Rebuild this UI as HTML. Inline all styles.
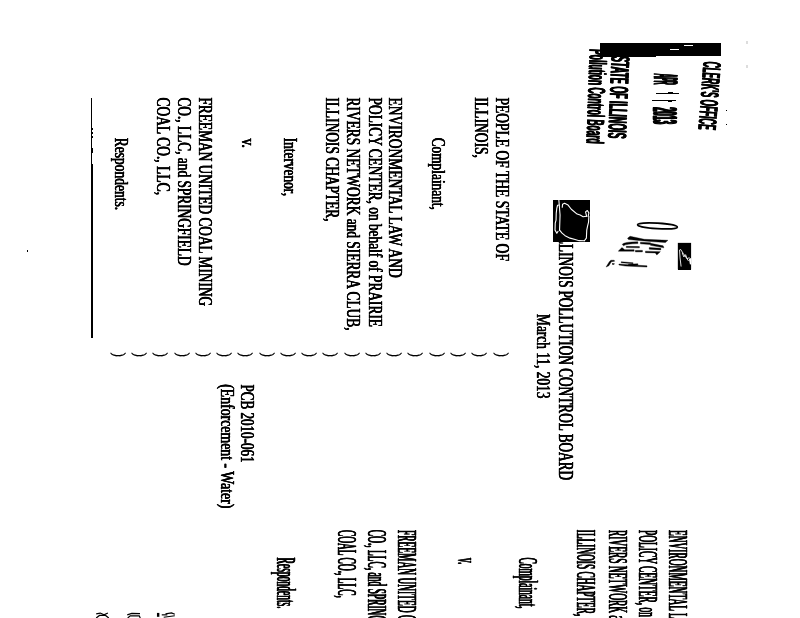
<!DOCTYPE html>
<html>
<head>
<meta charset="utf-8">
<title>Scanned filing</title>
<style>
html,body{margin:0;padding:0;background:#fff;}
#pg{position:relative;width:800px;height:618px;overflow:hidden;background:#fff;filter:grayscale(1);}
#pg span{position:absolute;left:0;top:0;transform-origin:0 0;white-space:pre;line-height:1;font-size:20px;color:#000;-webkit-text-stroke:0.4px #000;}
.s{font-family:"Liberation Serif",serif;text-shadow:0.4px 0 0 #000,-0.4px 0 0 #000;}
.n{font-family:"Liberation Sans",sans-serif;}
.b{font-weight:700;}
.st{text-shadow:0.6px 0 0 #000,-0.6px 0 0 #000;-webkit-text-stroke:0.3px #000 !important;}
.st2{text-shadow:1.6px 0 0 #000,-1.6px 0 0 #000;}
.rp{text-shadow:0.6px 0 0 #000,-0.6px 0 0 #000;}
.par{text-shadow:none !important;-webkit-text-stroke:0.3px #000 !important;}
.box{position:absolute;background:#000;}
svg{position:absolute;overflow:visible;}
</style>
</head>
<body>
<div id="pg">
<span class="s" style="transform:translate(512.43px,97.49px) rotate(90deg) scale(0.6771,0.9538)">PEOPLE OF THE STATE OF</span>
<span class="s" style="transform:translate(491.53px,97.36px) rotate(90deg) scale(0.6770,0.9538)">ILLINOIS,</span>
<span class="s" style="transform:translate(448.13px,137.67px) rotate(90deg) scale(0.6667,0.9538)">Complainant,</span>
<span class="s" style="transform:translate(405.33px,97.59px) rotate(90deg) scale(0.6752,0.9538)">ENVIRONMENTAL LAW AND</span>
<span class="s" style="transform:translate(385.23px,97.60px) rotate(90deg) scale(0.6675,0.9538)">POLICY CENTER, on behalf of PRAIRIE</span>
<span class="s" style="transform:translate(363.23px,97.60px) rotate(90deg) scale(0.6686,0.9538)">RIVERS NETWORK and SIERRA CLUB,</span>
<span class="s" style="transform:translate(342.03px,97.46px) rotate(90deg) scale(0.6690,0.9538)">ILLINOIS CHAPTER,</span>
<span class="s" style="transform:translate(300.03px,137.67px) rotate(90deg) scale(0.6674,0.9538)">Intervenor,</span>
<span class="s" style="transform:translate(258.03px,138.50px) rotate(90deg) scale(0.6770,0.9538)">v.</span>
<span class="s" style="transform:translate(215.33px,97.60px) rotate(90deg) scale(0.6660,0.9538)">FREEMAN UNITED COAL MINING</span>
<span class="s" style="transform:translate(194.03px,97.47px) rotate(90deg) scale(0.6668,0.9538)">CO., LLC, and SPRINGFIELD</span>
<span class="s" style="transform:translate(173.23px,97.46px) rotate(90deg) scale(0.6765,0.9538)">COAL CO., LLC,</span>
<span class="s" style="transform:translate(130.73px,137.80px) rotate(90deg) scale(0.6749,0.9538)">Respondents.</span>
<span class="s" style="transform:translate(257.43px,384.41px) rotate(90deg) scale(0.6548,0.9538)">PCB 2010-061</span>
<span class="s" style="transform:translate(237.03px,384.25px) rotate(90deg) scale(0.6889,0.9538)">(Enforcement - Water)</span>
<span class="s" style="transform:translate(576.61px,231.47px) rotate(90deg) scale(0.6650,1.0308)">ILLINOIS</span>
<span class="s" style="transform:translate(576.61px,290.40px) rotate(90deg) scale(0.6635,1.0308)">POLLUTION CONTROL BOARD</span>
<span class="s" style="transform:translate(553.53px,314.10px) rotate(90deg) scale(0.6664,0.9538)">March 11, 2013</span>
<span class="s par" style="transform:translate(511.41px,352.51px) rotate(90deg) scale(0.6500,0.8769)">)</span>
<span class="s par" style="transform:translate(490.15px,352.51px) rotate(90deg) scale(0.6500,0.8769)">)</span>
<span class="s par" style="transform:translate(468.89px,352.51px) rotate(90deg) scale(0.6500,0.8769)">)</span>
<span class="s par" style="transform:translate(447.63px,352.51px) rotate(90deg) scale(0.6500,0.8769)">)</span>
<span class="s par" style="transform:translate(426.37px,352.51px) rotate(90deg) scale(0.6500,0.8769)">)</span>
<span class="s par" style="transform:translate(405.12px,352.51px) rotate(90deg) scale(0.6500,0.8769)">)</span>
<span class="s par" style="transform:translate(383.86px,352.51px) rotate(90deg) scale(0.6500,0.8769)">)</span>
<span class="s par" style="transform:translate(362.60px,352.51px) rotate(90deg) scale(0.6500,0.8769)">)</span>
<span class="s par" style="transform:translate(341.34px,352.51px) rotate(90deg) scale(0.6500,0.8769)">)</span>
<span class="s par" style="transform:translate(320.08px,352.51px) rotate(90deg) scale(0.6500,0.8769)">)</span>
<span class="s par" style="transform:translate(298.82px,352.51px) rotate(90deg) scale(0.6500,0.8769)">)</span>
<span class="s par" style="transform:translate(277.57px,352.51px) rotate(90deg) scale(0.6500,0.8769)">)</span>
<span class="s par" style="transform:translate(256.31px,352.51px) rotate(90deg) scale(0.6500,0.8769)">)</span>
<span class="s par" style="transform:translate(235.05px,352.51px) rotate(90deg) scale(0.6500,0.8769)">)</span>
<span class="s par" style="transform:translate(213.79px,352.51px) rotate(90deg) scale(0.6500,0.8769)">)</span>
<span class="s par" style="transform:translate(192.53px,352.51px) rotate(90deg) scale(0.6500,0.8769)">)</span>
<span class="s par" style="transform:translate(171.27px,352.51px) rotate(90deg) scale(0.6500,0.8769)">)</span>
<span class="s par" style="transform:translate(150.02px,352.51px) rotate(90deg) scale(0.6500,0.8769)">)</span>
<span class="s par" style="transform:translate(128.76px,352.51px) rotate(90deg) scale(0.6500,0.8769)">)</span>
<span class="s rp" style="transform:translate(600.68px,529.83px) rotate(90deg) scale(0.4656,1.3846)">ILLINOIS CHAPTER,</span>
<span class="s rp" style="transform:translate(632.28px,529.92px) rotate(90deg) scale(0.4725,1.3846)">RIVERS NETWORK and SIERRA CLUB,</span>
<span class="s rp" style="transform:translate(662.58px,529.92px) rotate(90deg) scale(0.4725,1.3846)">POLICY CENTER, on behalf of PRAIRIE</span>
<span class="s rp" style="transform:translate(692.78px,529.92px) rotate(90deg) scale(0.4725,1.3846)">ENVIRONMENTAL LAW AND</span>
<span class="s rp" style="transform:translate(542.18px,557.52px) rotate(90deg) scale(0.4718,1.3846)">Complainant,</span>
<span class="s rp" style="transform:translate(481.58px,557.90px) rotate(90deg) scale(0.4758,1.3846)">v.</span>
<span class="s rp" style="transform:translate(421.18px,529.92px) rotate(90deg) scale(0.4725,1.3846)">FREEMAN UNITED COAL MINING</span>
<span class="s rp" style="transform:translate(391.18px,529.82px) rotate(90deg) scale(0.4725,1.3846)">CO., LLC, and SPRINGFIELD</span>
<span class="s rp" style="transform:translate(361.48px,529.92px) rotate(90deg) scale(0.4712,1.3846)">COAL CO., LLC,</span>
<span class="s rp" style="transform:translate(300.78px,557.61px) rotate(90deg) scale(0.4762,1.3846)">Respondents.</span>
<span class="n b st" style="transform:translate(725.06px,62.67px) rotate(94.4deg) scale(0.4124,1.2681)">CLERK&#x27;S OFFICE</span>
<span class="n b st2" style="transform:translate(683.07px,74.05px) rotate(91deg) scale(0.2573,1.7101)">APR</span>
<span class="n b st2" style="transform:translate(682.27px,107.28px) rotate(90deg) scale(0.3750,1.7101)">2013</span>
<span class="n b st" style="transform:translate(633.67px,56.63px) rotate(92.4deg) scale(0.4442,1.3043)">STATE OF ILLINOIS</span>
<span class="n b st" style="transform:translate(610.54px,49.71px) rotate(92deg) scale(0.4192,1.2319)">Pollution Control Board</span><!-- rule line -->
<div class="box" style="left:91px;top:98px;width:1.2px;height:70px"></div>
<div class="box" style="left:91px;top:164px;width:2.1px;height:173.6px"></div>
<div class="box" style="left:92px;top:148px;width:1px;height:5px"></div>
<div class="box" style="left:92px;top:128px;width:1px;height:2px"></div>
<div class="box" style="left:92px;top:132px;width:1px;height:2px"></div>
<div class="box" style="left:92px;top:136px;width:1px;height:2px"></div>
<div class="box" style="left:27px;top:250px;width:1px;height:2px"></div>
<!-- top stamp bar -->
<div class="box" style="left:600px;top:43px;width:121px;height:13px"></div>
<div class="box" style="left:600px;top:43px;width:56px;height:13.6px"></div>
<!-- flag box -->
<div class="box" style="left:553px;top:200px;width:37px;height:42px"></div>
<!-- small box -->
<div class="box" style="left:678px;top:243px;width:13px;height:26.5px"></div>
<!-- APR 1 9 strokes -->
<div class="box" style="left:656px;top:92.7px;width:23px;height:1.2px"></div>
<div class="box" style="left:668px;top:91.8px;width:5px;height:1.4px"></div>
<div class="box" style="left:652px;top:100px;width:23.5px;height:1.2px"></div>
<div class="box" style="left:668px;top:99.6px;width:4px;height:2px"></div>
<!-- bar highlights -->
<div class="box" style="left:670px;top:48.6px;width:9px;height:1px;background:#fff"></div>
<div class="box" style="left:684px;top:44.6px;width:9px;height:1px;background:#fff"></div>
<!-- stray specks -->
<div class="box" style="left:726px;top:110px;width:1px;height:1px"></div>
<div class="box" style="left:726px;top:123.5px;width:1px;height:1px"></div>
<div class="box" style="left:746px;top:41px;width:2px;height:3px;background:#ddd"></div>
<div class="box" style="left:746px;top:65px;width:2px;height:3px;background:#ddd"></div>
<!-- flag outline inside black box -->
<svg style="left:545px;top:190px" width="80" height="62" viewBox="0 0 797 618" preserveAspectRatio="none" fill="none" stroke="#fff" stroke-width="11" stroke-linejoin="round" stroke-linecap="round">
<path d="M138,100 L142,150 L150,250 L145,400"/>
<path d="M142,150 L125,152 L118,180 L112,230 L110,300 L102,330 L100,400 L118,432 L130,412"/>
<path d="M172,172 L175,142 L195,133 L230,150 L262,192 L320,240 L350,250 L380,266 L415,262"/>
<path d="M415,262 L404,218 L422,204 L437,228 L430,262"/>
<path d="M437,262 L434,320 L424,360 L416,400 L412,480 L392,506"/>
<path d="M145,400 L170,430 L200,455 L250,480 L300,494 L340,505 L392,506"/>
</svg>
<!-- ellipse + scribbles + small box -->
<svg style="left:600px;top:210px" width="100" height="78" viewBox="0 0 792 618" preserveAspectRatio="none">
<ellipse cx="455" cy="126" rx="158" ry="22" transform="rotate(3.5 455 126)" fill="none" stroke="#000" stroke-width="13"/>
<g fill="#000" stroke="#000" stroke-width="3">
<path d="M218,224 L238,208 L350,232 L538,240 L518,258 L350,246 L226,234 Z"/>
<path d="M176,272 Q190,252 300,252 L300,266 Q205,268 186,284 Z"/>
<path d="M320,256 L400,260 L400,274 L320,268 Z"/>
<path d="M400,264 L500,284 L506,300 L400,280 Z"/>
<path d="M208,288 L312,290 L312,300 L208,298 Z"/>
<path d="M390,298 L482,304 L482,316 L390,310 Z"/>
<path d="M146,324 L174,298 L196,314 L270,314 L270,326 L146,326 Z"/>
<path d="M280,320 L336,320 L336,332 L280,332 Z"/>
<path d="M360,326 L478,330 L450,356 L438,340 L360,338 Z"/>
<path d="M48,452 L74,410 L86,398 L112,398 L116,406 L90,410 L70,442 Z"/>
<path d="M150,428 L200,432 L372,442 L372,452 L200,444 L150,436 Z"/>
<path d="M168,410 L262,418 L262,426 L168,418 Z"/>
<path d="M225,430 L300,426 L300,436 L225,440 Z"/>
<rect x="98" y="424" width="14" height="8"/>
<rect x="618" y="262" width="102" height="210"/>
</g>
<g fill="none" stroke="#fff" stroke-width="7" stroke-linecap="round" stroke-linejoin="round">
<path d="M630,318 L634,380 L642,445"/>
<path d="M638,312 L660,345 L700,402"/>
<path d="M652,342 L664,372 L678,354 L690,386 L706,378"/>
</g>
<path d="M704,386 L721,380 L721,432 L712,430 Z" fill="#fff"/>
</svg>
<!-- bottom cut-off marks -->
<svg style="left:80px;top:590px" width="120" height="28" viewBox="0 0 800 187" preserveAspectRatio="none" fill="none" stroke="#000" stroke-width="8">
<path d="M108,160 L135,154 L160,166 L186,154"/>
<path d="M108,187 L130,170 L170,170 L192,187"/>
<path d="M315,166 L345,156 L400,158"/>
<path d="M318,187 L335,173 L395,173 L402,187"/>
<rect x="513" y="153" width="16" height="26" fill="#000" stroke="none"/>
<path d="M545,166 L582,166"/>
<path d="M570,160 L610,153 L632,162"/>
<path d="M558,182 L632,172"/>
</svg>
</div>
</body>
</html>
